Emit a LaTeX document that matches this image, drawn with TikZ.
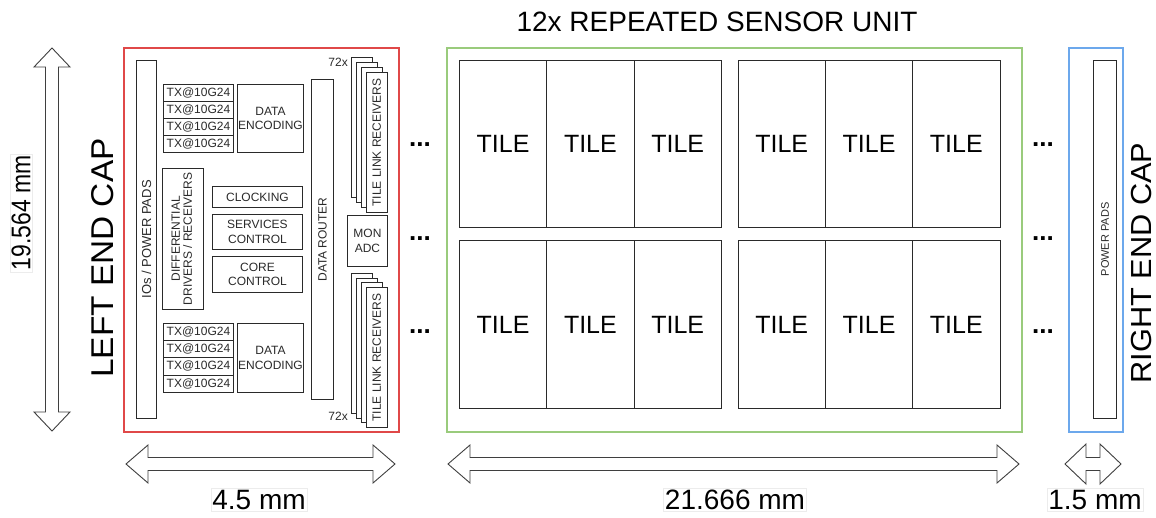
\documentclass[tikz,border=0pt]{standalone}
\usepackage{fontspec}
\setmainfont{Liberation Sans}
\definecolor{capred}{HTML}{E04848}
\definecolor{capgreen}{HTML}{9ACB7C}
\definecolor{capblue}{HTML}{6CA8EC}
\definecolor{ink}{HTML}{2A2A2A}
\newcommand\fs[2]{\fontsize{#1}{#2}\selectfont}
\newcommand\bx[7][]{\pgfmathsetmacro\bxw{(#5)-(#3)}\pgfmathsetmacro\bxh{(#6)-(#4)}\pgfmathsetmacro\bxx{#3}\pgfmathsetmacro\bxy{#4}%
  \node[blk,anchor=north west,minimum width=\bxw pt,minimum height=\bxh pt,#1] (#2) at (\bxx,\bxy) {#7};}
\tikzset{
  blk/.style={draw=ink, line width=0.9pt, fill=white, inner sep=0pt, text=ink, font=\fs{12}{14.5}, align=center},
  capbox/.style={line width=2pt},
  tile/.style={blk, font=\fs{25}{30}, text=black},
  dimarr/.style={draw=ink!90, line width=0.9pt, fill=white, line join=miter},
  dimlbl/.style={draw=gray!15, line width=0.6pt, inner sep=1.5pt, font=\fs{28}{32}, text=black},
  biglbl/.style={text=black, inner sep=0pt},
  dots/.style={font=\bfseries\fs{26}{30}, text=black, inner sep=0pt, anchor=base},
}
\begin{document}
\begin{tikzpicture}[x=1pt,y=-1pt]
\useasboundingbox (0,0) rectangle (1156,518);
% ---------- cap frames ----------
\node[draw=capred, capbox, anchor=north west, minimum width=275, minimum height=384, inner sep=0pt] (leftcap) at (123,47) {};
\node[draw=capgreen, capbox, anchor=north west, minimum width=575, minimum height=384, inner sep=0pt] (unit) at (446,47) {};
\node[draw=capblue, capbox, anchor=north west, minimum width=54, minimum height=384, inner sep=0pt] (rightcap) at (1068,47) {};
% ---------- left end cap content ----------
\bx[font=\fs{13}{15}]{iopads}{136}{60}{156}{418}{\rotatebox{90}{IOs / POWER PADS}}
\foreach \i in {0,...,3}{
  \bx{txa\i}{163}{84+17.1*\i}{233}{101.1+17.1*\i}{TX@10G24}
  \bx{txb\i}{163}{323+17.2*\i}{233}{340.2+17.2*\i}{TX@10G24}
}
\bx{encA}{237}{84}{303}{152}{DATA\\ENCODING}
\bx{encB}{237}{323}{303}{392}{DATA\\ENCODING}
\bx{diff}{162}{168}{203}{309}{\rotatebox{90}{\begin{tabular}{@{}c@{}}DIFFERENTIAL\\[-2.5pt]DRIVERS / RECEIVERS\end{tabular}}}
\bx{clk}{212}{186}{302}{207}{CLOCKING}
\bx{svc}{212}{214}{302}{249}{SERVICES\\CONTROL}
\bx{core}{212}{256}{302}{292}{CORE\\CONTROL}
\bx{router}{311}{79}{333}{399}{\rotatebox{90}{DATA ROUTER}}
\bx{monadc}{347}{215}{387}{266}{MON\\ADC}
% tile link receiver stacks
\foreach \i in {0,1,2}{
  \bx{tlrA\i}{351+4.9*\i}{57+5*\i}{372+4.9*\i}{197+5*\i}{}
  \bx{tlrB\i}{351+4.9*\i}{273+4.7*\i}{372+4.9*\i}{413+4.7*\i}{}
}
\bx{tlrA}{365.7}{72}{386.7}{212}{\rotatebox{90}{TILE LINK RECEIVERS}}
\bx{tlrB}{365.7}{287}{386.7}{427}{\rotatebox{90}{TILE LINK RECEIVERS}}
\node[anchor=east, inner sep=0pt, text=ink, font=\fs{12}{14}] (nA) at (348,62) {72x};
\node[anchor=east, inner sep=0pt, text=ink, font=\fs{12}{14}] (nB) at (348,416) {72x};
% ---------- tiles ----------
\foreach \r/\ya/\yb in {1/60/227, 2/240/408}{
  \foreach \c/\xa/\xb in {1/459/546.3, 2/546.3/633.6, 3/633.6/721, 4/737.6/825, 5/825/912.3, 6/912.3/999.5}{
    \bx[tile]{tile\r\c}{\xa}{\ya}{\xb}{\yb}{TILE}
  }
}
% ---------- right end cap ----------
\bx[font=\fs{11}{13}]{ppads}{1093}{60}{1116}{418}{\rotatebox{90}{POWER PADS}}
% ---------- dots ----------
\foreach \k/\y in {1/147, 2/241, 3/334}{
  \node[dots] (dl\k) at (420,\y) {...};
  \node[dots] (dr\k) at (1043,\y) {...};
}
% ---------- titles ----------
\node[font=\fs{28}{32}, text=black, inner sep=0pt] (title) at (717,22) {12x REPEATED SENSOR UNIT};
\node[biglbl, font=\fs{31.5}{36}] (lcap) at (103,258) {\rotatebox{90}{\scalebox{1.06}[1]{LEFT END CAP}}};
\node[biglbl, font=\fs{29}{34}] (rcap) at (1141.5,263) {\rotatebox{90}{\scalebox{1.06}[1]{RIGHT END CAP}}};
% ---------- dimension arrows ----------
\draw[dimarr] (52,48) -- (70,67) -- (58.5,67) -- (58.5,412) -- (70,412) -- (52,431) -- (34,412) -- (45.5,412) -- (45.5,67) -- (34,67) -- cycle;
\draw[dimarr] (126,464) -- (148,445) -- (148,457.5) -- (373,457.5) -- (373,445) -- (395,464) -- (373,483) -- (373,470.5) -- (148,470.5) -- (148,483) -- cycle;
\draw[dimarr] (448,464) -- (470,445) -- (470,457.5) -- (997,457.5) -- (997,445) -- (1019,464) -- (997,483) -- (997,470.5) -- (470,470.5) -- (470,483) -- cycle;
\draw[dimarr] (1065,464) -- (1086,444) -- (1086,457.5) -- (1100,457.5) -- (1100,444) -- (1121,464) -- (1100,484) -- (1100,470.5) -- (1086,470.5) -- (1086,484) -- cycle;
% ---------- dimension labels ----------
\node[dimlbl, font=\fs{27}{32}] (dimH) at (21,213) {\rotatebox{90}{\scalebox{0.85}[1]{19.564 mm}}};
\node[dimlbl] (dimL) at (259,500) {4.5 mm};
\node[dimlbl] (dimU) at (735,500) {21.666 mm};
\node[dimlbl] (dimR) at (1095,500) {1.5 mm};
\end{tikzpicture}
\end{document}
